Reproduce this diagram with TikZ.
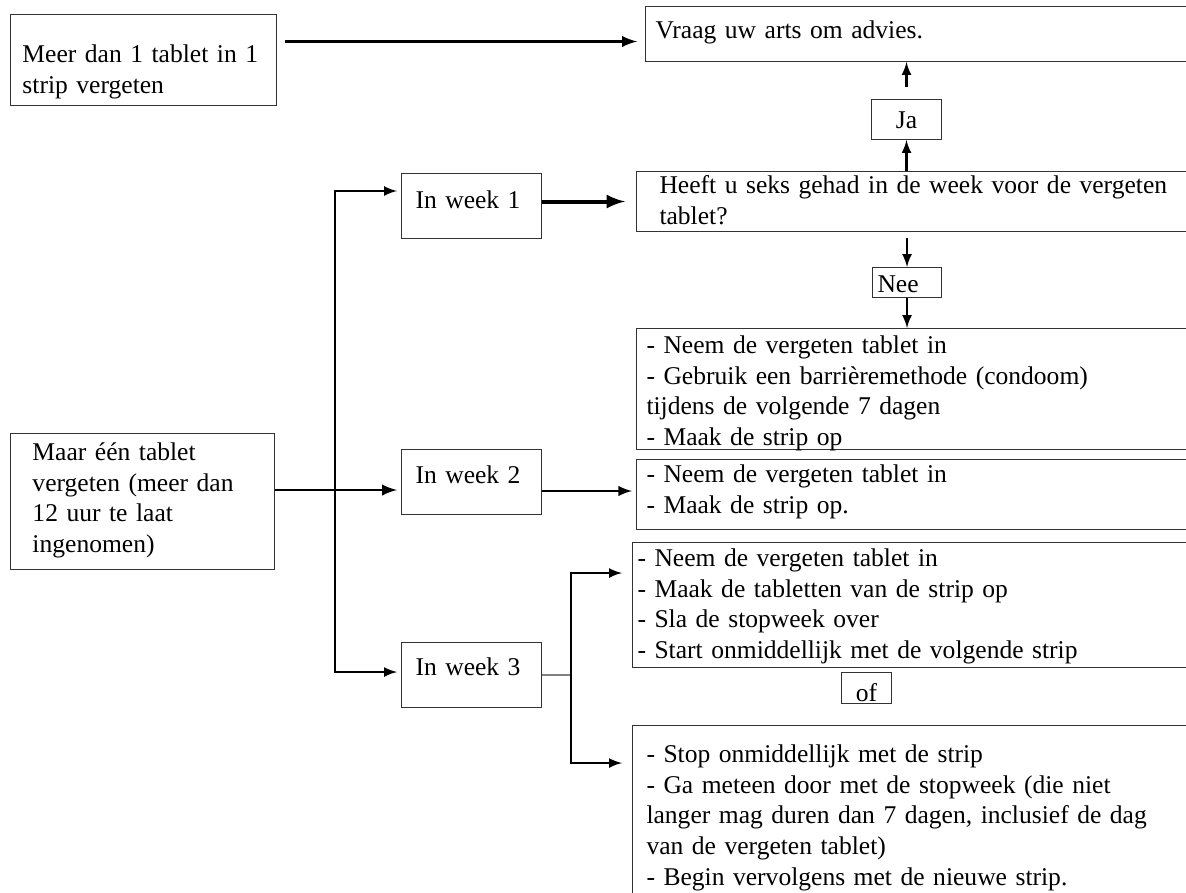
\documentclass[tikz,border=0pt]{standalone}
\usepackage{fontspec}
\setmainfont{Liberation Serif}
\usetikzlibrary{calc}
\begin{document}
\begin{tikzpicture}[x=0.45pt, y=-0.45pt, >=latex]

      \tikzset{boxed/.style={draw=black!80, line width=0.45pt, rectangle, anchor=north west, align=left, inner ysep=0pt, font=\fontsize{11.5}{13.8}\selectfont},
               arr/.style={->, line width=1pt}}
      \useasboundingbox (0,0) rectangle (1186,892);
      \clip (0,0) rectangle (1186,892);
%% Boxes
      	\node[boxed, inner xsep=5.4pt, text width=108.9pt, text height=21.6pt, text depth=19.35pt] (meer) at (10,14) {Meer dan 1 tablet in 1\\strip vergeten};
      	\node[boxed, inner xsep=4.5pt, text width=263.25pt, text height=14.4pt, text depth=10.35pt] (vraag) at (645,6) {Vraag uw arts om advies.};
      	\node[boxed, align=center, inner xsep=0pt, text width=31.5pt, text height=13.05pt, text depth=4.95pt] (ja) at (871,99) {Ja};
      	\node[boxed, inner xsep=10.35pt, text width=255.6pt, text height=9.9pt, text depth=17.1pt] (seks) at (636,171) {Heeft u seks gehad in de week voor de vergeten\\tablet?};
      	\node[boxed, inner xsep=2.25pt, text width=26.55pt, text height=11.25pt, text depth=2.25pt] (nee) at (872,267) {Nee};
      	\node[boxed, inner xsep=4.5pt, text width=267.3pt, text height=11.25pt, text depth=43.2pt] (advies1) at (636,328) {- Neem de vergeten tablet in\\- Gebruik een barrièremethode (condoom)\\tijdens de volgende 7 dagen\\- Maak de strip op};
      	\node[boxed, inner xsep=4.5pt, text width=267.3pt, text height=10.35pt, text depth=21.15pt] (advies2) at (636,459) {- Neem de vergeten tablet in\\- Maak de strip op.};
      	\node[boxed, inner xsep=2.25pt, text width=273.6pt, text height=10.8pt, text depth=45.45pt] (advies3) at (632,542) {- Neem de vergeten tablet in\\- Maak de tabletten van de strip op\\- Sla de stopweek over\\- Start onmiddellijk met de volgende strip};
      	\node[boxed, align=center, inner xsep=0pt, text width=22.5pt, text height=13.05pt, text depth=0.9pt] (of) at (841,672) {of};
      	\node[boxed, inner xsep=6.3pt, text width=265.5pt, text height=16.65pt, text depth=75.6pt] (advies4) at (632,725) {- Stop onmiddellijk met de strip\\- Ga meteen door met de stopweek (die niet\\langer mag duren dan 7 dagen, inclusief de dag\\van de vergeten tablet)\\- Begin vervolgens met de nieuwe strip.};
      	\node[boxed, inner xsep=6.3pt, text width=50.4pt, text height=15.75pt, text depth=13.5pt] (week1) at (401,173) {In week 1};
      	\node[boxed, inner xsep=6.3pt, text width=50.4pt, text height=15.3pt, text depth=13.95pt] (week2) at (401,449) {In week 2};
      	\node[boxed, inner xsep=6.3pt, text width=50.4pt, text height=14.85pt, text depth=14.4pt] (week3) at (401,642) {In week 3};
      	\node[boxed, inner xsep=9.9pt, text width=99pt, text height=12.15pt, text depth=49.05pt] (maar) at (10,433) {Maar één tablet\\vergeten (meer dan\\12 uur te laat\\ingenomen)};
      	\coordinate (f1) at (335,191);
      	\coordinate (f2) at (335,672);
      	\coordinate (g1) at (571,573);
      	\coordinate (g2) at (571,763);
%Arrows
		\draw[arr, line width=1.3pt] ($(meer.east |- vraag.west)+(8,7.5)$) -- ($(vraag.west)+(-8,7.5)$);
		\draw[arr, shorten <=5.4pt] (ja.north) -- (ja.north |- vraag.south);
		\draw[arr] (ja.south |- seks.north) -- (ja.south);
		\draw[arr, shorten <=2.7pt] (nee.north |- seks.south) -- (nee.north);
		\draw[arr] (nee.south) -- (nee.south |- advies1.north);
		\draw[arr, line width=1.8pt, shorten >=5pt] (week1.east |- seks.west) -- (seks.west);
		\draw[<->, line width=1pt, shorten <=1.8pt, shorten >=1.8pt] (f1 -| week1.west) -- (f1) -- (f2) -- (f2 -| week3.west);
		\draw[arr, line width=1.3pt, shorten >=1.8pt] ($(maar.east |- week2.west)+(0,8)$) -- ($(week2.west)+(0,8)$);
		\draw[arr, line width=1.1pt, shorten >=1.8pt] ($(week2.east)+(0,9)$) -- ($(week2.east -| advies2.west)+(0,9)$);
		\draw[gray, line width=0.6pt] (week3.east) -- (week3.east -| g1);
		\draw[<->, line width=1pt, shorten <=4.5pt, shorten >=4.5pt] (g1 -| advies3.west) -- (g1) -- (g2) -- (g2 -| advies4.west);

	\end{tikzpicture}
\end{document}
